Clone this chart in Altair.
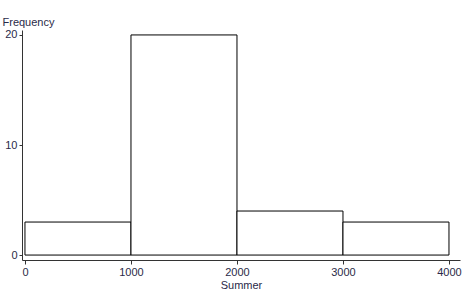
import altair as alt
import pandas as pd

bin_starts = [0, 1000, 2000, 3000]
bin_ends = [1000, 2000, 3000, 4000]
counts = [3, 20, 4, 3]
x_ticks = [0, 1000, 2000, 3000, 4000]
y_ticks = [0, 10, 20]

df = pd.DataFrame({"start": bin_starts, "end": bin_ends, "count": counts, "base": [0] * len(counts)})

text_color = "#2a2a48"
font = "Liberation Sans"

chart = alt.Chart(df).mark_rect(fill="white", stroke="black", strokeWidth=1).encode(
    x=alt.X("start:Q", scale=alt.Scale(domain=[-28, 4104], nice=False, zero=False),
            axis=alt.Axis(title="Summer", values=x_ticks, format="d", grid=False,
                          tickSize=4, labelPadding=2, titlePadding=2,
                          domainColor="#333333", tickColor="#333333",
                          labelColor=text_color, titleColor=text_color,
                          labelFontSize=11, titleFontSize=11, titleFontWeight="normal",
                          labelFont=font, titleFont=font, labelFlush=False)),
    x2="end:Q",
    y=alt.Y("count:Q", scale=alt.Scale(domain=[-0.45, 20.45], nice=False, zero=False),
            axis=alt.Axis(title="Frequency", values=y_ticks, grid=False,
                          tickSize=3, labelPadding=2,
                          domainColor="#333333", tickColor="#333333",
                          labelColor=text_color, titleColor=text_color,
                          labelFontSize=11, titleFontSize=11, titleFontWeight="normal",
                          labelFont=font, titleFont=font,
                          titleAngle=0, titleX=-20, titleY=-8, titleAlign="left",
                          titleBaseline="middle", labelFlush=False)),
    y2="base:Q",
).properties(
    width=438, height=230,
    background="white",
    padding={"left": 22, "top": 30, "right": 4, "bottom": 32},
    autosize=alt.AutoSizeParams(type="none"),
).configure_view(stroke=None)

chart.save("out.html", embed_options={"renderer": "svg", "actions": False})
